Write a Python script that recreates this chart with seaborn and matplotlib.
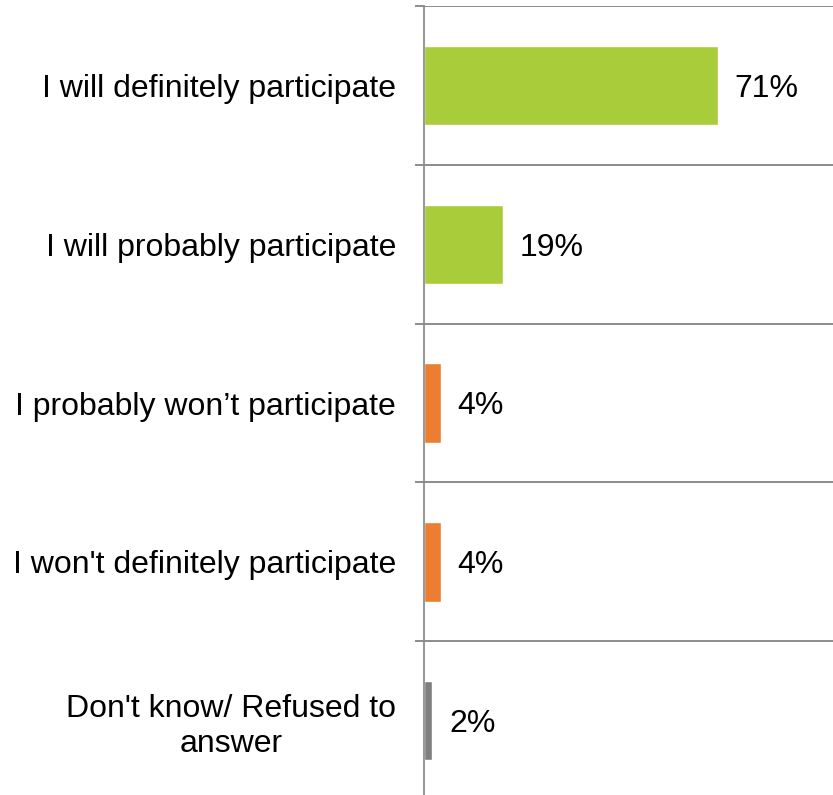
import matplotlib
matplotlib.use("Agg")
import matplotlib.pyplot as plt
import seaborn as sns
import numpy as np

sns.set_style("white")
plt.rcParams['font.family'] = ['Liberation Sans', 'DejaVu Sans']

categories = ["I will definitely participate", "I will probably participate",
              "I probably won\u2019t participate", "I won't definitely participate",
              "Don't know/ Refused to\nanswer"]
values = [71, 19, 4, 4, 2]
colors = ["#A9CD3A", "#A9CD3A", "#ED7D31", "#ED7D31", "#7F7F7F"]

fig = plt.figure(figsize=(8.33, 7.95), dpi=100)
ax = fig.add_axes([424 / 833, -5 / 795, 409 / 833, 794 / 795])

sns.barplot(x=values, y=categories, hue=categories, palette=colors,
            legend=False, orient="h", width=0.5, ax=ax, saturation=1)

ax.set_xlim(0, 98.8)
ax.set_ylim(4.5, -0.5)
ax.set_xlabel("")
ax.set_ylabel("")
ax.set_xticks([])

# category boundaries as grid lines with small outward ticks
ax.set_yticks(np.arange(-0.5, 5, 1))
ax.set_yticklabels([])
ax.tick_params(axis="y", which="major", left=True, length=6.5, width=1.4,
               color="#8C8C8C", direction="out")
ax.set_yticks(range(len(categories)), minor=True)
ax.set_yticklabels(categories, minor=True, fontsize=23, color="black")
ax.tick_params(axis="y", which="minor", left=True, length=0, pad=20)
for lbl in ax.get_yticklabels(minor=True):
    lbl.set_multialignment("center")
ax.yaxis.grid(True, which="major", color="#8C8C8C", linewidth=1.4)
ax.set_axisbelow(False)

for s in ["top", "right", "bottom"]:
    ax.spines[s].set_visible(False)
ax.spines["left"].set_color("#9A9A9A")
ax.spines["left"].set_linewidth(1.5)

for c in ax.containers:
    texts = ax.bar_label(c, labels=[f"{v:.0f}%" for v in c.datavalues], padding=12,
                         fontsize=23, color="black")
    for t in texts:
        t.set_va("center_baseline")

fig.savefig("out.png", dpi=100)
